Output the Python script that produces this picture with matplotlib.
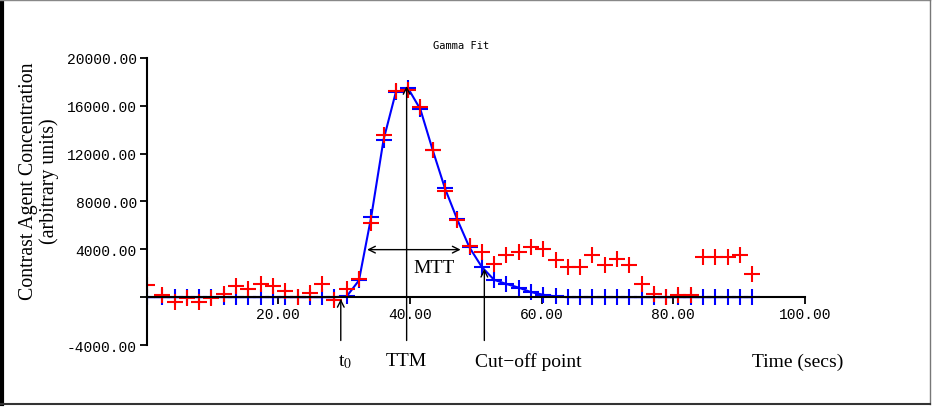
import matplotlib
matplotlib.use("Agg")
import matplotlib.pyplot as plt
from matplotlib.lines import Line2D
from matplotlib.ticker import FormatStrFormatter

# sample times (secs)
times = [0.0, 2.4, 4.27, 6.13, 8.0, 9.86, 11.73, 13.6, 15.46, 17.33, 19.19,
         21.06, 22.93, 24.79, 26.66, 28.52, 30.39, 32.26, 34.12, 35.99, 37.85,
         39.72, 41.59, 43.45, 45.32, 47.18, 49.05, 50.92, 52.78, 54.65, 56.51,
         58.38, 60.25, 62.11, 63.98, 65.84, 67.71, 69.58, 71.44, 73.31, 75.17,
         77.04, 78.91, 80.77, 82.64, 84.5, 86.37, 88.24, 90.1, 91.97]

# measured concentration curve
measured = [1000, 190, -420, -30, -420, -90, 280, 970, 700, 1120, 970,
            550, 0, 360, 1120, -250, 700, 1540, 6200, 13560, 17220,
            17310, 15880, 12300, 8860, 6430, 4250, 3780, 2750, 3490, 3780,
            4190, 4050, 3070, 2520, 2520, 3490, 2650, 3210, 2650, 1120,
            280, 0, 140, 140, 3360, 3360, 3360, 3490, 1950]

# gamma variate fit
fitted = [0, 0, 0, 0, 0, 0, 0, 0, 0, 0, 0,
          0, 0, 0, 0, 0, 60, 1400, 6700, 13140, 17100,
          17450, 15690, 12300, 9090, 6500, 4150, 2520, 1450, 1100, 800,
          420, 200, 60, 0, 0, 0, 0, 0, 0, 0,
          0, 0, 0, 0, 0, 0, 0, 0, 0]

y_ticks = [-4000, 0, 4000, 8000, 12000, 16000, 20000]
y_ticklabels = ["-4000.00", "", "4000.00", "8000.00", "12000.00", "16000.00", "20000.00"]
x_ticks = [20, 40, 60, 80, 100]

t0 = 29.5          # bolus arrival
ttm = 39.5         # time to maximum
cutoff = 51.3      # end of fit window
mtt_span = (33.5, 47.7)
mtt_level = 3970

plt.rcParams['mathtext.fontset'] = 'stix'
serif = 'Liberation Serif'
mono = 'Liberation Mono'

fig = plt.figure(figsize=(9.35, 4.1), dpi=100)
ax = fig.add_axes([0.1567, 0.156, 0.7043, 0.7007])

ax.plot(times, fitted, color='#0000ff', lw=1.5, marker='+', ms=12, mew=1.5)
ax.plot(times, measured, color='#ff0000', lw=0, marker='+', ms=12, mew=1.5)

ax.set_xlim(0, 100)
ax.set_ylim(-4000, 20000)

for s in ['top', 'right']:
    ax.spines[s].set_visible(False)
ax.spines['bottom'].set_position(('data', 0))
ax.spines['bottom'].set_linewidth(1.5)
ax.spines['left'].set_linewidth(1.5)

ax.set_xticks(x_ticks)
ax.xaxis.set_major_formatter(FormatStrFormatter('%.2f'))
ax.set_yticks(y_ticks)
ax.set_yticklabels(y_ticklabels)
ax.tick_params(axis='both', direction='out', length=5, width=1.3, pad=2,
               labelsize=10.5)
for lab in ax.get_xticklabels() + ax.get_yticklabels():
    lab.set_family(mono)

fig.text(461 / 935, 1 - 46 / 410, "Gamma Fit", family='DejaVu Sans Mono',
         fontsize=7.5, ha='center', va='center')

fig.text(39 / 935, 1 - 181 / 410,
         "Contrast Agent Concentration\n(arbitrary units)",
         family=serif, fontsize=14.3, rotation=90, ha='center', va='center',
         multialignment='center', linespacing=1.05)

arrow = dict(arrowstyle='->', color='black', lw=1.0, shrinkA=0, shrinkB=0,
             mutation_scale=12)
for x, tip in [(t0, -150), (ttm, 17640), (cutoff, 2370)]:
    ax.annotate("", xy=(x, tip), xytext=(x, -3620), arrowprops=arrow,
                annotation_clip=False)

ax.annotate("", xy=(mtt_span[0], mtt_level), xytext=(mtt_span[1], mtt_level),
            arrowprops=dict(arrow, arrowstyle='<->'))
ax.text(43.7, 2470, "MTT", family=serif, fontsize=14, ha='center', va='center')

ax.text(30.1, -5330, "t$_0$", family=serif, fontsize=14, ha='center',
        va='center', clip_on=False)
ax.text(ttm, -5330, "TTM", family=serif, fontsize=14, ha='center',
        va='center', clip_on=False)
ax.text(49.9, -5330, "Cut\u2212off point", family=serif, fontsize=14,
        ha='left', va='center', clip_on=False)
ax.text(98.9, -5330, "Time (secs)", family=serif, fontsize=14, ha='center',
        va='center', clip_on=False)

# outer frame
fig.add_artist(Line2D([2 / 935, 2 / 935], [1 - 405 / 410, 1], color='black',
                      lw=3, transform=fig.transFigure))
fig.add_artist(Line2D([0, 930 / 935], [1 - 0.5 / 410, 1 - 0.5 / 410],
                      color='#888888', lw=1, transform=fig.transFigure))
fig.add_artist(Line2D([930 / 935, 930 / 935], [1 - 405 / 410, 1],
                      color='#777777', lw=1, transform=fig.transFigure))
fig.add_artist(Line2D([0, 930 / 935], [1 - 405 / 410, 1 - 405 / 410],
                      color='#333333', lw=1.5, transform=fig.transFigure))

fig.savefig("out.png", dpi=100)
